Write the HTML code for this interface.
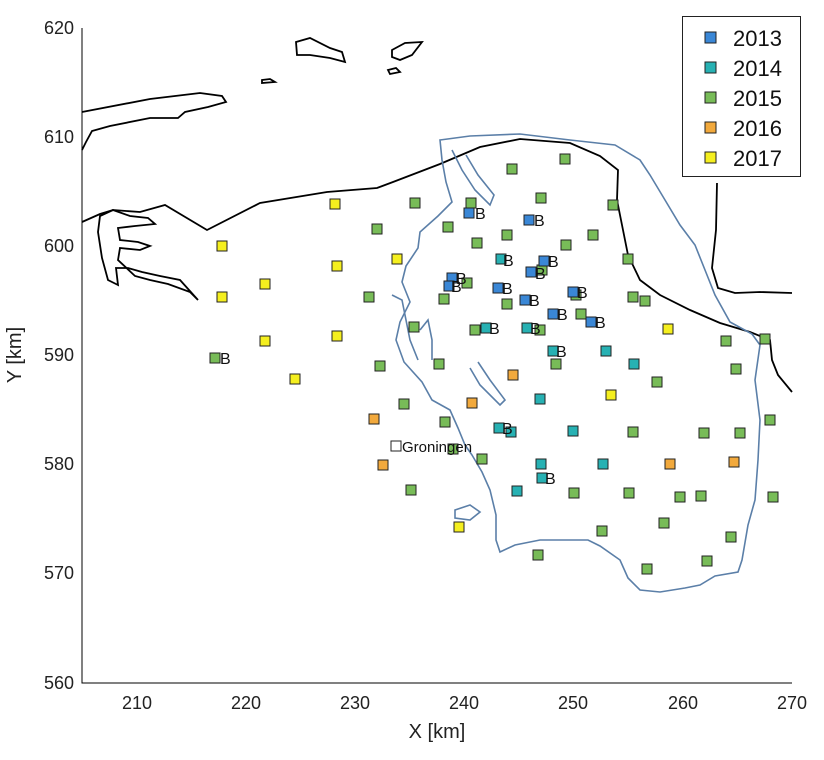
<!DOCTYPE html><html><head><meta charset="utf-8"><style>body{margin:0;background:#fff}svg{display:block}text{font-family:"Liberation Sans","DejaVu Sans",sans-serif}</style></head><body>
<svg width="824" height="760" viewBox="0 0 824 760">
<g fill="none" stroke="#000" stroke-width="1.8">
<path d="M82,112 L150,99 L200,93 L222,96 L226,102 L208,107 L185,112 L178,118 L150,118 L110,126 L92,131 L86,142 L82,150"/>
<path d="M82,222 L100,214 L113,210 L140,212 L165,205 L207,230 L260,203 L327,192 L377,188 L393,182 L440,164 L480,147 L520,139 L570,143 L600,156 L618,170 L617,200 L622,225 L628,255 L640,280 L660,295 L690,310 L720,323 L750,332 L770,340 L772,360 L778,375 L792,392"/>
<path d="M113,210 L100,216 L98,232 L102,258 L108,280 L118,285 L116,268 L128,268 L142,272 L160,276 L180,280 L198,300 L190,292 L168,284 L150,280 L135,276 L118,260 L120,248 L140,250 L150,246 L138,242 L120,240 L118,228 L135,226 L155,224 L148,218 L130,216 Z"/>
<path d="M717,183 L716,230 L712,268 L718,288 L735,293 L760,292 L792,293"/>
<path d="M296,42 L310,38 L330,48 L342,52 L345,62 L330,58 L310,55 L297,55 Z"/>
<path d="M392,50 L405,43 L422,42 L412,55 L400,60 L392,57 Z"/>
<path d="M262,80 L270,79 L275,82 L262,83 Z"/>
<path d="M388,70 L396,68 L400,72 L390,74 Z"/>
</g>
<g fill="none" stroke="#5b7fa8" stroke-width="1.6">
<path d="M440,140 L470,136 L520,134 L570,140 L615,145 L640,160 L650,175 L665,200 L680,225 L695,245 L705,270 L715,295 L730,322 L752,334 L760,345 L755,380 L760,420 L758,460 L755,500 L748,525 L742,560 L738,572 L715,576 L700,585 L685,588 L660,592 L640,590 L628,578 L620,560 L600,546 L588,540 L540,540 L515,545 L500,552 L496,540 L496,515 L490,490 L482,472 L472,455 L465,445 L458,428 L450,410 L432,400 L422,382 L404,362 L396,340 L400,322 L410,302 L402,282 L406,266 L418,248 L420,232 L438,216 L452,202 L446,182 L442,160 Z"/>
<path d="M452,150 L462,170 L475,190 L490,205 L494,195 L478,175 L466,155"/>
<path d="M392,295 L402,300 L410,340 L418,360"/>
<path d="M420,330 L428,320 L432,340 L432,360"/>
<path d="M470,368 L480,385 L500,405 L505,400 L490,380 L478,362"/>
<path d="M455,510 L470,505 L480,512 L470,520 L455,518 Z"/>
</g>
<g stroke="#000" stroke-width="1" fill="none"><path d="M82,28 V683 H792"/></g>
<g font-size="18" fill="#222" text-anchor="end">
<text x="74" y="34">620</text><text x="74" y="143">610</text><text x="74" y="252">600</text><text x="74" y="361">590</text><text x="74" y="470">580</text><text x="74" y="579">570</text><text x="74" y="689">560</text>
</g>
<g font-size="18" fill="#222" text-anchor="middle">
<text x="137" y="709">210</text><text x="246" y="709">220</text><text x="355" y="709">230</text><text x="464" y="709">240</text><text x="573" y="709">250</text><text x="683" y="709">260</text><text x="792" y="709">270</text>
<text x="437" y="738" font-size="20">X [km]</text>
<text transform="translate(21,355) rotate(-90)" font-size="20">Y [km]</text>
</g>
<g stroke="#222" stroke-width="1" id="m">
<g fill="#f5ef1f">
<rect x="217" y="241" width="10" height="10"/><rect x="217" y="292" width="10" height="10"/><rect x="260" y="279" width="10" height="10"/><rect x="260" y="336" width="10" height="10"/><rect x="290" y="374" width="10" height="10"/><rect x="330" y="199" width="10" height="10"/><rect x="332" y="261" width="10" height="10"/><rect x="332" y="331" width="10" height="10"/><rect x="392" y="254" width="10" height="10"/><rect x="454" y="522" width="10" height="10"/><rect x="606" y="390" width="10" height="10"/><rect x="663" y="324" width="10" height="10"/>
</g>
<g fill="#f2a93c">
<rect x="369" y="414" width="10" height="10"/><rect x="378" y="460" width="10" height="10"/><rect x="467" y="398" width="10" height="10"/><rect x="508" y="370" width="10" height="10"/><rect x="665" y="459" width="10" height="10"/><rect x="729" y="457" width="10" height="10"/>
</g>
<g fill="#78bc58">
<rect x="210" y="353" width="10" height="10"/><rect x="364" y="292" width="10" height="10"/><rect x="372" y="224" width="10" height="10"/><rect x="375" y="361" width="10" height="10"/><rect x="399" y="399" width="10" height="10"/><rect x="406" y="485" width="10" height="10"/><rect x="410" y="198" width="10" height="10"/><rect x="409" y="322" width="10" height="10"/><rect x="434" y="359" width="10" height="10"/><rect x="439" y="294" width="10" height="10"/><rect x="440" y="417" width="10" height="10"/><rect x="443" y="222" width="10" height="10"/><rect x="448" y="444" width="10" height="10"/><rect x="462" y="278" width="10" height="10"/><rect x="466" y="198" width="10" height="10"/><rect x="470" y="325" width="10" height="10"/><rect x="472" y="238" width="10" height="10"/><rect x="477" y="454" width="10" height="10"/><rect x="507" y="164" width="10" height="10"/><rect x="502" y="230" width="10" height="10"/><rect x="502" y="299" width="10" height="10"/><rect x="536" y="193" width="10" height="10"/><rect x="537" y="265" width="10" height="10"/><rect x="535" y="325" width="10" height="10"/><rect x="551" y="359" width="10" height="10"/><rect x="560" y="154" width="10" height="10"/><rect x="561" y="240" width="10" height="10"/><rect x="571" y="290" width="10" height="10"/><rect x="576" y="309" width="10" height="10"/><rect x="588" y="230" width="10" height="10"/><rect x="608" y="200" width="10" height="10"/><rect x="623" y="254" width="10" height="10"/><rect x="628" y="292" width="10" height="10"/><rect x="640" y="296" width="10" height="10"/><rect x="652" y="377" width="10" height="10"/><rect x="721" y="336" width="10" height="10"/><rect x="760" y="334" width="10" height="10"/><rect x="731" y="364" width="10" height="10"/><rect x="765" y="415" width="10" height="10"/><rect x="628" y="427" width="10" height="10"/><rect x="699" y="428" width="10" height="10"/><rect x="735" y="428" width="10" height="10"/><rect x="569" y="488" width="10" height="10"/><rect x="624" y="488" width="10" height="10"/><rect x="675" y="492" width="10" height="10"/><rect x="696" y="491" width="10" height="10"/><rect x="768" y="492" width="10" height="10"/><rect x="659" y="518" width="10" height="10"/><rect x="597" y="526" width="10" height="10"/><rect x="726" y="532" width="10" height="10"/><rect x="533" y="550" width="10" height="10"/><rect x="702" y="556" width="10" height="10"/><rect x="642" y="564" width="10" height="10"/>
</g>
<g fill="#27b1b3">
<rect x="496" y="254" width="10" height="10"/><rect x="481" y="323" width="10" height="10"/><rect x="522" y="323" width="10" height="10"/><rect x="548" y="346" width="10" height="10"/><rect x="601" y="346" width="10" height="10"/><rect x="629" y="359" width="10" height="10"/><rect x="535" y="394" width="10" height="10"/><rect x="494" y="423" width="10" height="10"/><rect x="506" y="427" width="10" height="10"/><rect x="568" y="426" width="10" height="10"/><rect x="536" y="459" width="10" height="10"/><rect x="598" y="459" width="10" height="10"/><rect x="537" y="473" width="10" height="10"/><rect x="512" y="486" width="10" height="10"/>
</g>
<g fill="#3a87d6">
<rect x="464" y="208" width="10" height="10"/><rect x="524" y="215" width="10" height="10"/><rect x="539" y="256" width="10" height="10"/><rect x="526" y="267" width="10" height="10"/><rect x="447" y="273" width="10" height="10"/><rect x="444" y="281" width="10" height="10"/><rect x="493" y="283" width="10" height="10"/><rect x="520" y="295" width="10" height="10"/><rect x="568" y="287" width="10" height="10"/><rect x="548" y="309" width="10" height="10"/><rect x="586" y="317" width="10" height="10"/>
</g>
<rect x="391" y="441" width="10" height="10" fill="#fff"/>
</g>
<g font-size="16" fill="#111">
<text x="220" y="364">B</text><text x="475" y="219">B</text><text x="534" y="226">B</text><text x="503" y="266">B</text><text x="548" y="267">B</text><text x="535" y="279">B</text><text x="456" y="284">B</text><text x="451" y="292">B</text><text x="502" y="294">B</text><text x="529" y="306">B</text><text x="577" y="298">B</text><text x="557" y="320">B</text><text x="595" y="328">B</text><text x="489" y="334">B</text><text x="530" y="334">B</text><text x="556" y="357">B</text><text x="502" y="434">B</text><text x="545" y="484">B</text>
<text x="402" y="452" font-size="15">Groningen</text>
</g>
<rect x="682.5" y="16.5" width="118" height="160" fill="#fff" stroke="#222" stroke-width="1"/>
<g stroke="#222" stroke-width="1">
<rect x="705" y="32" width="11" height="11" fill="#3a87d6"/><rect x="705" y="62" width="11" height="11" fill="#27b1b3"/><rect x="705" y="92" width="11" height="11" fill="#78bc58"/><rect x="705" y="122" width="11" height="11" fill="#f2a93c"/><rect x="705" y="152" width="11" height="11" fill="#f5ef1f"/>
</g>
<g font-size="22" fill="#111">
<text x="733" y="46">2013</text><text x="733" y="76">2014</text><text x="733" y="106">2015</text><text x="733" y="136">2016</text><text x="733" y="166">2017</text>
</g>
</svg></body></html>
